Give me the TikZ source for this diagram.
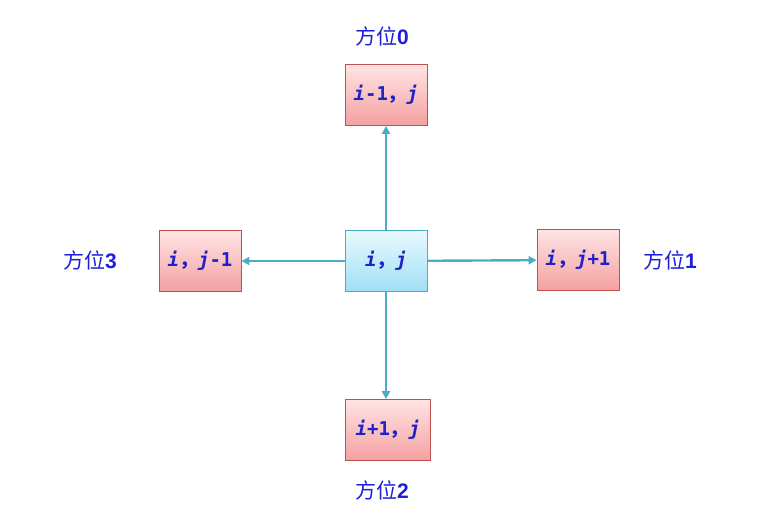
\documentclass[tikz,border=0pt]{standalone}
\usepackage{fontspec}
\setmonofont{DejaVu Sans Mono}
\setsansfont{Liberation Sans}
\newfontfamily\cjk{Noto Sans CJK SC}
\usetikzlibrary{arrows.meta}
\definecolor{arrowc}{RGB}{75,172,198}
\definecolor{txtc}{RGB}{32,32,200}
\definecolor{lblc}{RGB}{30,30,220}
\definecolor{redtop}{RGB}{255,228,228}
\definecolor{redbot}{RGB}{244,160,160}
\definecolor{redborder}{RGB}{192,80,77}
\definecolor{bluetop}{RGB}{232,250,255}
\definecolor{bluebot}{RGB}{160,222,245}
\definecolor{blueborder}{RGB}{75,172,198}
\tikzset{
  redbox/.style={draw=redborder, line width=0.8pt, top color=redtop, bottom color=redbot, minimum width=82pt, minimum height=61pt, inner sep=0pt, text=txtc, font=\ttfamily\bfseries\fontsize{19}{21}\selectfont},
  bluebox/.style={redbox, draw=blueborder, top color=bluetop, bottom color=bluebot},
  lbl/.style={text=lblc, font=\fontsize{21}{23}\selectfont},
  conn/.style={draw=arrowc, line width=2.4pt, -{Triangle[length=8pt,width=8pt]}}
}
\newcommand{\cm}{{\cjk ，}}
\newcommand{\dg}[1]{{\sffamily\bfseries #1}}
\begin{document}
\begin{tikzpicture}[x=1pt,y=-1pt]
\useasboundingbox (0,0) rectangle (758,526);
\node[bluebox] (c) at (386,261) {\textit{i}\cm\textit{j}};
\node[redbox] (t) at (386,95) {\textit{i}-1\cm\textit{j}};
\node[redbox] (l) at (200,261) {\textit{i}\cm\textit{j}-1};
\node[redbox] (r) at (578,260) {\textit{i}\cm\textit{j}+1};
\node[redbox, minimum width=85pt] (b) at (388,430) {\textit{i}+1\cm\textit{j}};
\node[lbl] (l0) at (382,36) {{\cjk 方位}\dg{0}};
\node[lbl] (l1) at (670,260) {{\cjk 方位}\dg{1}};
\node[lbl] (l2) at (382,490) {{\cjk 方位}\dg{2}};
\node[lbl] (l3) at (90,260) {{\cjk 方位}\dg{3}};
\draw[conn] (c) -- (t);
\draw[conn] (c) -- (l);
\draw[conn] (c) -- (r);
\draw[conn] (c.south) -- (b.north -| c.south);
\end{tikzpicture}
\end{document}
